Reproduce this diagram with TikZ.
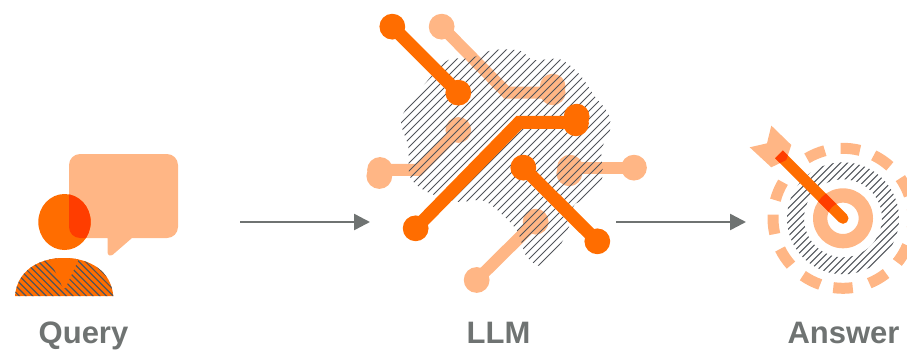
\documentclass[tikz,border=0pt]{standalone}
\usepackage{fontspec}
\setmainfont{Liberation Sans}
\usetikzlibrary{arrows.meta}
\definecolor{dk}{HTML}{FF6D00}
\definecolor{lt}{HTML}{FFB685}
\definecolor{ov}{HTML}{FF3D00}
\definecolor{gr}{HTML}{6F7372}
\definecolor{ht}{HTML}{50545A}
\tikzset{
 lab/.style={font=\bfseries\fontsize{31}{31}\selectfont,text=gr,anchor=base,inner sep=0pt},
 flow/.style={draw=gr,line width=2.5pt,-{Triangle[length=16pt,width=16pt]}},
 hatchline/.style={draw=ht,line width=1pt},
 ltline/.style={draw=lt,line width=12pt,line join=miter},
 dkline/.style={draw=dk,line width=13pt,line join=miter},
}
\begin{document}
\begin{tikzpicture}[x=1pt,y=-1pt]
\useasboundingbox (0,0) rectangle (907,349);
\clip (0,0) rectangle (907,349);
% --- person
\def\bubble{(80,154) -- (167,154) .. controls (173,154) and (178,159) .. (178,165) -- (178,227) .. controls (178,233) and (173,238) .. (167,238) -- (132,238) -- (113,254.5) .. controls (110.5,256.5) and (107.5,255.5) .. (107.5,252) -- (107.5,238) -- (80,238) .. controls (74,238) and (69,233) .. (69,227) -- (69,165) .. controls (69,159) and (74,154) .. (80,154) -- cycle}
\fill[lt] \bubble;
\def\headp{(64.5,222) ellipse[x radius=26.2,y radius=28]}
\fill[dk] \headp;
\begin{scope}
\clip \headp;
\fill[ov] \bubble;
\end{scope}
\def\bodyp{(15,296) .. controls (17,271) and (38,258) .. (64,258) .. controls (90,258) and (111,271) .. (113.3,296) -- cycle}
\fill[dk] \bodyp;
\begin{scope}
\clip \bodyp;
\foreach \c in {10,16.7,...,165} \draw[hatchline,line width=1.2pt] (\c-300,0) -- (\c,300);
\fill[dk] (48,256) -- (80,256) -- (65.5,288) -- (63,288) -- cycle;
\end{scope}
% --- LLM
\begin{scope}[shift={(360,0)},x=0.3333pt,y=-0.3333pt]
\draw[ltline] (245,80) -- (440,278) -- (578,278);
\fill[lt] (245,80) circle (12.9pt) (578,260) circle (12.9pt) (578,277) circle (12.9pt);
\draw[ltline] (295,390) -- (175,510) -- (60,510);
\fill[lt] (295,390) circle (12.9pt) (60,510) circle (12.9pt) (58,528) circle (12.9pt);
\draw[ltline] (822,503) -- (630,503);
\fill[lt] (822,503) circle (12.9pt) (630,503) circle (12.9pt) (628,520) circle (12.9pt);
\draw[ltline] (350,840) -- (527,665);
\fill[lt] (350,840) circle (12.9pt) (527,665) circle (12.9pt);
\begin{scope}
\clip plot[smooth cycle,tension=0.5] coordinates {(200,245) (265,180) (330,175) (400,150) (480,152) (520,180) (600,178) (660,225) (705,290) (745,340) (750,390) (725,450) (725,540) (665,600) (640,620) (620,700) (555,797) (500,770) (470,690) (400,620) (360,600) (290,605) (200,575) (150,530) (145,440) (125,380) (130,340)};
\foreach \c in {300,324,...,1400} \draw[hatchline] (\c,0) -- (0,\c);
\end{scope}
\draw[dkline] (97,80) -- (295,278);
\fill[dk] (97,80) circle (12.9pt) (295,278) circle (12.9pt);
\draw[dkline] (167,685) -- (478,367) -- (648,367);
\fill[dk] (167,685) circle (12.9pt) (650,350) circle (12.9pt) (648,370) circle (12.9pt);
\draw[dkline] (490,503) -- (712,724);
\fill[dk] (490,503) circle (12.9pt) (712,724) circle (12.9pt);
\end{scope}
% --- target
\begin{scope}[shift={(843,218.3)}]
\begin{scope}[even odd rule]
\clip (0,0) circle (56pt) (0,0) circle (39pt);
\foreach \c in {-100,-93,...,100} \draw[hatchline] (\c-100,100) -- (\c+100,-100);
\end{scope}
\foreach \a in {-31,0,27,56,84,113,157,185,214,243,270,300,329} \draw[lt,line width=11pt] (\a-8:70pt) arc[start angle=\a-8,end angle=\a+8,radius=70pt];
\def\ringp{(0,0) circle (30pt) (0,0) circle (15.7pt)}
\fill[lt,even odd rule] \ringp;
\def\feather{(-93.3,-71) -- (-76,-75) -- (-71.7,-92.7) -- (-51.7,-73.3) -- (-56.7,-58.3) -- (-71.7,-51) -- cycle}
\fill[lt] \feather;
\draw[dk,line width=11pt,line cap=round] (-60,-60) -- (0,0);
\draw[dk,line width=11pt] (-64,-64) -- (-60,-60);
\begin{scope}
\clip \feather;
\draw[ov,line width=11pt] (-64,-64) -- (0,0);
\end{scope}
\begin{scope}[even odd rule]
\clip \ringp;
\draw[ov,line width=11pt] (-60,-60) -- (0,0);
\end{scope}
\end{scope}
% --- flow
\coordinate (q) at (240,222);
\coordinate (l) at (370,222);
\coordinate (m) at (616,222);
\coordinate (a) at (746,222);
\draw[flow] (q) -- (l);
\draw[flow] (m) -- (a);
\node[lab] (tq) at (83.5,343) {Query};
\node[lab] (tl) at (498.5,343) {LLM};
\node[lab] (ta) at (843.5,343) {Answer};
\end{tikzpicture}
\end{document}
